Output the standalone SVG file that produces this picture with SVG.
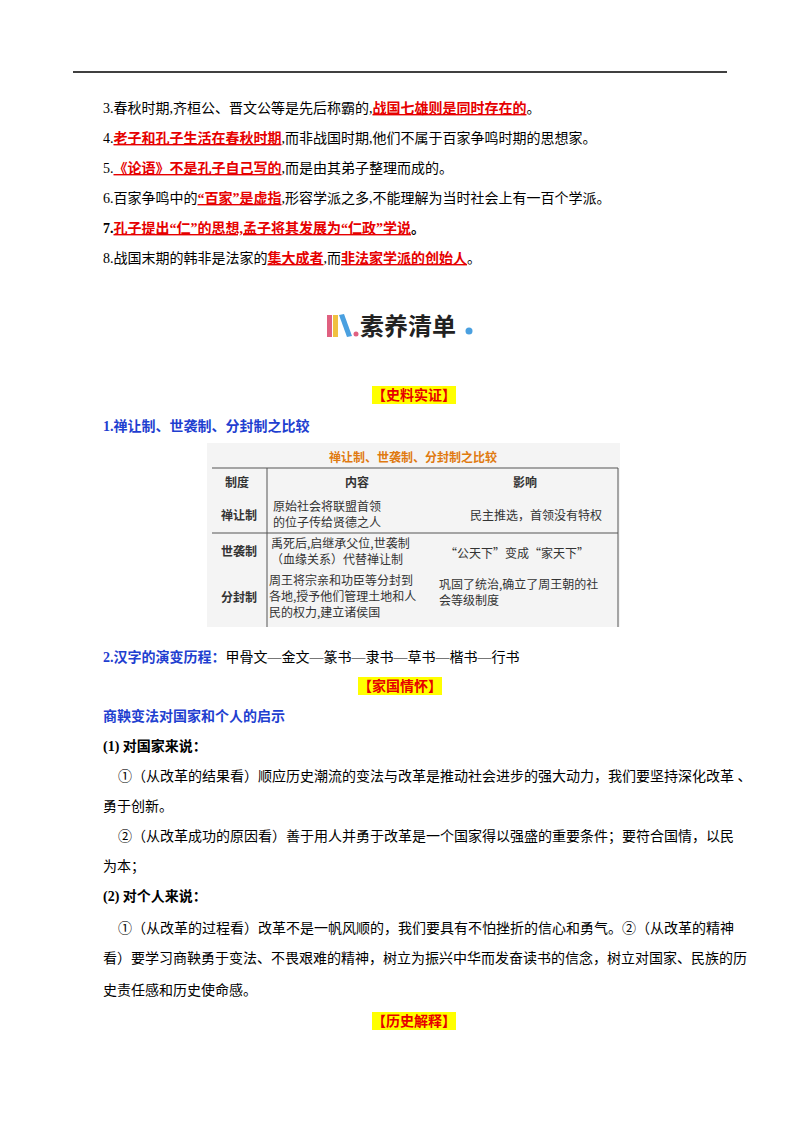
<svg xmlns="http://www.w3.org/2000/svg" width="800" height="1132" viewBox="0 0 800 1132">
<style>
text{font-family:"Liberation Serif","Noto Sans CJK SC",serif;font-size:14px;fill:#000}
.r{fill:#e60000;font-weight:bold;text-decoration:underline}
.b{fill:#1f3fd0;font-weight:bold}
.k{font-weight:bold}
.tag{fill:#e60000;font-weight:bold;text-anchor:middle}
.t{font-family:"Noto Sans CJK SC",sans-serif;font-size:12px;fill:#333}
.th{font-family:"Noto Sans CJK SC",sans-serif;font-size:12px;fill:#333;font-weight:bold}
</style>
<rect width="800" height="1132" fill="#fff"/>
<line x1="73" y1="72" x2="727" y2="72" stroke="#000" stroke-width="1.5"/>
<text x="103" y="113">3.春秋时期,齐桓公、晋文公等是先后称霸的,<tspan class="r">战国七雄则是同时存在的</tspan>。</text>
<text x="103" y="143">4.<tspan class="r">老子和孔子生活在春秋时期</tspan>,而非战国时期,他们不属于百家争鸣时期的思想家。</text>
<text x="103" y="173">5.<tspan class="r">《论语》不是孔子自己写的</tspan>,而是由其弟子整理而成的。</text>
<text x="103" y="203">6.百家争鸣中的<tspan class="r">“百家”是虚指</tspan>,形容学派之多,不能理解为当时社会上有一百个学派。</text>
<text x="103" y="233"><tspan class="k">7.</tspan><tspan class="r">孔子提出“仁”的思想,孟子将其发展为“仁政”学说</tspan><tspan class="k">。</tspan></text>
<text x="103" y="263">8.战国末期的韩非是法家的<tspan class="r">集大成者</tspan>,而<tspan class="r">非法家学派的创始人</tspan>。</text>
<g id="logo">
<rect x="327" y="315" width="5" height="22" fill="#e06080"/>
<rect x="333" y="315" width="5" height="22" fill="#f0c040"/>
<polygon points="339,315 344,314 352,336 347,337" fill="#4aa0e0"/>
<circle cx="356" cy="334" r="2.5" fill="#e06080"/>
<text x="360" y="335" style="font-size:24px;font-family:'Noto Sans CJK SC',serif;font-weight:bold;fill:#222">素养清单</text>
<circle cx="469" cy="331" r="3.5" fill="#4aa0e0"/>
</g>
<rect x="372" y="386" width="84" height="18" fill="#ffff00"/>
<text x="414" y="400" class="tag">【史料实证】</text>
<text x="103" y="431" class="b">1.禅让制、世袭制、分封制之比较</text>
<g id="table">
<rect x="207" y="443" width="413" height="184" fill="#f4f4f4"/>
<text x="413" y="462" class="th" style="fill:#e07a10;text-anchor:middle">禅让制、世袭制、分封制之比较</text>
<line x1="212" y1="468" x2="618" y2="468" stroke="#555"/>
<line x1="212" y1="533" x2="618" y2="533" stroke="#555"/>
<line x1="267" y1="468" x2="267" y2="627" stroke="#555"/>
<line x1="618" y1="468" x2="618" y2="627" stroke="#555"/>
<text x="225" y="487" class="th">制度</text>
<text x="345" y="487" class="th">内容</text>
<text x="513" y="487" class="th">影响</text>
<text x="221" y="520" class="th">禅让制</text>
<text x="273" y="511" class="t">原始社会将联盟首领</text>
<text x="273" y="527" class="t">的位子传给贤德之人</text>
<text x="470" y="520" class="t">民主推选，首领没有特权</text>
<text x="221" y="556" class="th">世袭制</text>
<text x="271" y="548" class="t">禹死后,启继承父位,世袭制</text>
<text x="271" y="564" class="t">（血缘关系）代替禅让制</text>
<text x="445" y="558" class="t">“公天下”变成“家天下”</text>
<text x="221" y="602" class="th">分封制</text>
<text x="269" y="585" class="t">周王将宗亲和功臣等分封到</text>
<text x="269" y="601" class="t">各地,授予他们管理土地和人</text>
<text x="269" y="617" class="t">民的权力,建立诸侯国</text>
<text x="439" y="589" class="t">巩固了统治,确立了周王朝的社</text>
<text x="439" y="605" class="t">会等级制度</text>
</g>
<text x="103" y="662"><tspan class="b">2.汉字的演变历程：</tspan>甲骨文—金文—篆书—隶书—草书—楷书—行书</text>
<rect x="358" y="677" width="84" height="18" fill="#ffff00"/>
<text x="400" y="691" class="tag">【家国情怀】</text>
<text x="103" y="721" class="b">商鞅变法对国家和个人的启示</text>
<text x="103" y="751" class="k">(1) 对国家来说：</text>
<text x="118" y="781">①（从改革的结果看）顺应历史潮流的变法与改革是推动社会进步的强大动力，我们要坚持深化改革 、</text>
<text x="103" y="811">勇于创新。</text>
<text x="118" y="841">②（从改革成功的原因看）善于用人并勇于改革是一个国家得以强盛的重要条件；要符合国情，以民</text>
<text x="103" y="871">为本；</text>
<text x="103" y="901" class="k">(2) 对个人来说：</text>
<text x="118" y="933">①（从改革的过程看）改革不是一帆风顺的，我们要具有不怕挫折的信心和勇气。②（从改革的精神</text>
<text x="103" y="963">看）要学习商鞅勇于变法、不畏艰难的精神，树立为振兴中华而发奋读书的信念，树立对国家、民族的历</text>
<text x="103" y="995">史责任感和历史使命感。</text>
<rect x="372" y="1012" width="84" height="18" fill="#ffff00"/>
<text x="414" y="1026" class="tag">【历史解释】</text>
</svg>
